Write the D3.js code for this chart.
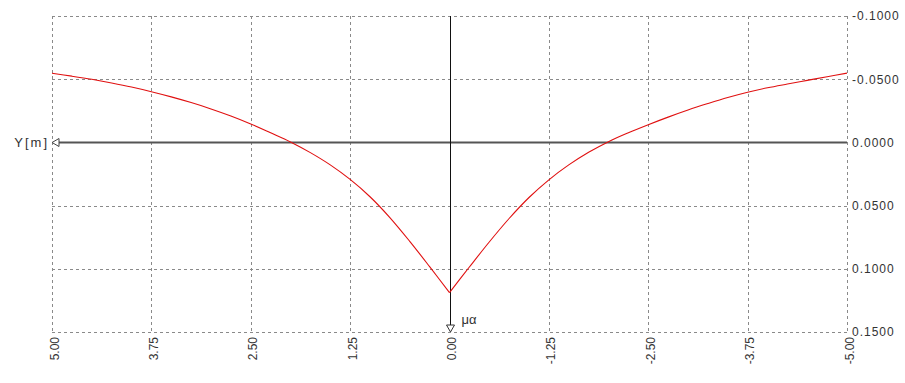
<!DOCTYPE html>
<html>
<head>
<meta charset="utf-8">
<script src="https://cdn.jsdelivr.net/npm/d3@7"></script>
<style>
  html, body { margin: 0; padding: 0; background: #fff; }
  svg { display: block; }
  text { font-family: "Liberation Sans", Arial, sans-serif; fill: #333; }
</style>
</head>
<body>
<svg id="chart" width="905" height="383"></svg>
<script>
// ---- data ----
const xValues = [5.00, 4.75, 4.50, 4.25, 4.00, 3.75, 3.50, 3.25, 3.00, 2.75, 2.50, 2.25, 2.00, 1.75, 1.50, 1.25, 1.00, 0.75, 0.50, 0.25,
  0.00, -0.25, -0.50, -0.75, -1.00, -1.25, -1.50, -1.75, -2.00, -2.25, -2.50, -2.75, -3.00, -3.25, -3.50, -3.75, -4.00, -4.25, -4.50, -4.75, -5.00];
const yValues = [-0.0547, -0.0524, -0.0499, -0.0470, -0.0438, -0.0401, -0.0360, -0.0315, -0.0265, -0.0209, -0.0146, -0.0076, -0.0004, 0.0081, 0.0178, 0.0293, 0.0430, 0.0595, 0.0783, 0.0983,
  0.1188, 0.0986, 0.0788, 0.0602, 0.0436, 0.0296, 0.0178, 0.0078, -0.0006, -0.0076, -0.0140, -0.0200, -0.0256, -0.0307, -0.0355, -0.0397, -0.0432, -0.0462, -0.0491, -0.0520, -0.0548];
const xTicks = [5.00, 3.75, 2.50, 1.25, 0.00, -1.25, -2.50, -3.75, -5.00];
const xTickLabels = ["5.00", "3.75", "2.50", "1.25", "0.00", "-1.25", "-2.50", "-3.75", "-5.00"];
const yTicks = [-0.10, -0.05, 0.00, 0.05, 0.10, 0.15];
const yTickLabels = ["-0.1000", "-0.0500", "0.0000", "0.0500", "0.1000", "0.1500"];
const yAxisTitle = "Y[m]";
const xAxisTitle = "μα";

// ---- layout ----
const svg = d3.select("#chart");
const L = 52, R = 847, T = 16, B = 332;

const x = d3.scaleLinear().domain([5, -5]).range([L, R]);
const y = d3.scaleLinear().domain([-0.10, 0.15]).range([T, B]);

// grid (dashed)
const grid = svg.append("g").attr("stroke", "#8a8a8a").attr("stroke-width", 1)
  .attr("stroke-dasharray", "3,3").attr("fill", "none").attr("shape-rendering", "crispEdges");
grid.selectAll("line.v").data(xTicks).join("line").attr("class", "v")
  .attr("x1", d => Math.round(x(d)) + 0.5).attr("x2", d => Math.round(x(d)) + 0.5)
  .attr("y1", T).attr("y2", B);
grid.selectAll("line.h").data(yTicks).join("line").attr("class", "h")
  .attr("x1", L).attr("x2", R)
  .attr("y1", d => Math.round(y(d)) + 0.5).attr("y2", d => Math.round(y(d)) + 0.5);

// right axis labels via d3 axis
const yAxis = d3.axisRight(y).tickValues(yTicks)
  .tickFormat((d, i) => yTickLabels[i]).tickSize(0).tickPadding(5);
const gy = svg.append("g").attr("transform", `translate(${R},0)`).call(yAxis);
gy.select(".domain").remove();
gy.selectAll("text").attr("font-size", 12).style("letter-spacing", "1px")
  .attr("fill", "#333").style("font-family", '"Liberation Sans", Arial, sans-serif');

// bottom axis labels (rotated)
const xAxis = d3.axisBottom(x).tickValues(xTicks)
  .tickFormat((d, i) => xTickLabels[i]).tickSize(0);
const gx = svg.append("g").attr("transform", `translate(0,${B})`).call(xAxis);
gx.select(".domain").remove();
gx.selectAll("text")
  .attr("font-size", 12).attr("fill", "#333")
  .style("font-family", '"Liberation Sans", Arial, sans-serif')
  .attr("text-anchor", "end").attr("dy", null).attr("y", 0)
  .attr("transform", "translate(2,5) rotate(-90)")
  .attr("dominant-baseline", "central")
  .attr("x", 0);

// zero horizontal axis
const y0 = Math.round(y(0)) + 0.5;
svg.append("line").attr("x1", L + 6).attr("x2", R).attr("y1", y0).attr("y2", y0)
  .attr("stroke", "#555").attr("stroke-width", 2);
svg.append("path")
  .attr("d", `M${L},${y0} L${L + 7},${y0 - 4} L${L + 7},${y0 + 4} Z`)
  .attr("fill", "#fff").attr("stroke", "#444").attr("stroke-width", 1);
svg.append("text").attr("x", L - 3).attr("y", y0).attr("text-anchor", "end")
  .attr("dominant-baseline", "central").attr("font-size", 13)
  .style("letter-spacing", "2px").text(yAxisTitle);

// vertical axis at 0
const x0 = Math.round(x(0)) + 0.5;
svg.append("line").attr("x1", x0).attr("x2", x0).attr("y1", T).attr("y2", B - 6)
  .attr("stroke", "#111").attr("stroke-width", 1);
svg.append("path")
  .attr("d", `M${x0},${B} L${x0 - 4},${B - 7} L${x0 + 4},${B - 7} Z`)
  .attr("fill", "#fff").attr("stroke", "#333").attr("stroke-width", 1);
svg.append("text").attr("x", x0 + 11).attr("y", B - 8)
  .attr("font-size", 13).text(xAxisTitle);

// curve: two smooth halves meeting at the sharp tip (x = 0)
const data = xValues.map((d, i) => ({ x: d, y: yValues[i] }));
const halves = [data.filter(d => d.x >= 0), data.filter(d => d.x <= 0)];
const line = d3.line().x(d => x(d.x)).y(d => y(d.y)).curve(d3.curveCatmullRom.alpha(0.5));
svg.selectAll("path.curve").data(halves).join("path").attr("class", "curve")
  .attr("fill", "none").attr("stroke", "#e01010").attr("stroke-width", 1.1)
  .attr("d", line);
</script>
</body>
</html>
